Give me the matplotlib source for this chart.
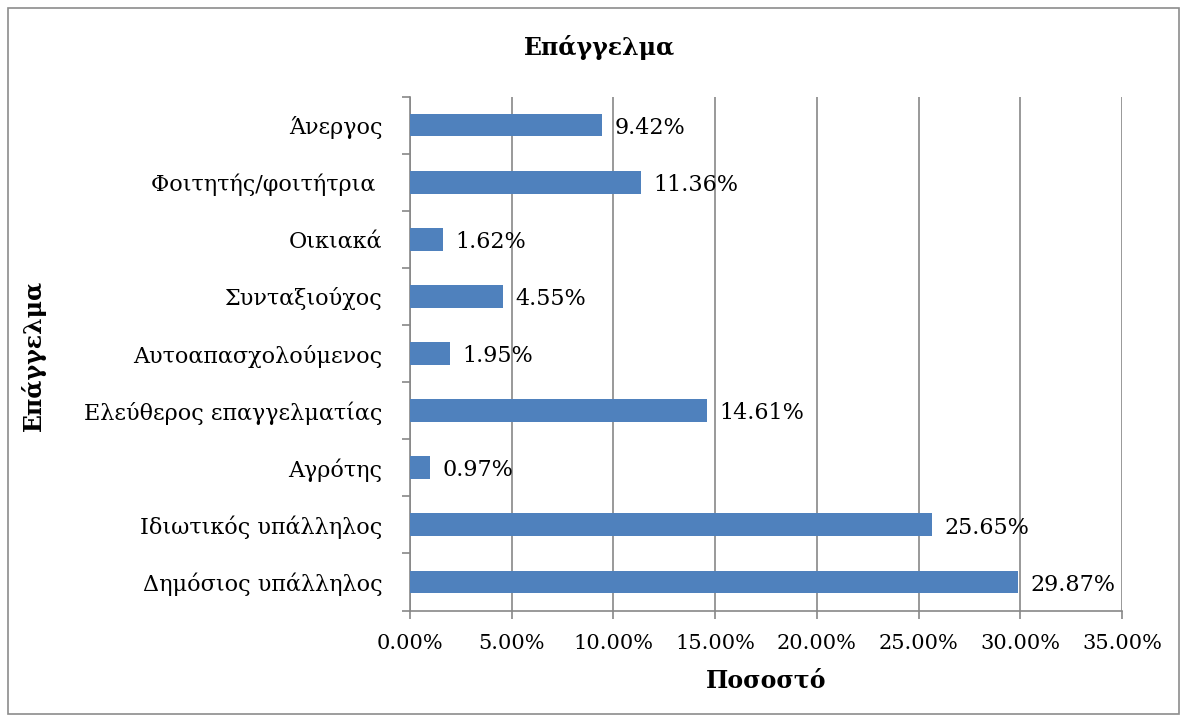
import matplotlib.pyplot as plt
from matplotlib.patches import Rectangle
from matplotlib.ticker import FixedLocator, PercentFormatter

# Data (bottom to top, as drawn)
categories = ['Δημόσιος υπάλληλος', 'Ιδιωτικός υπάλληλος', 'Αγρότης',
              'Ελεύθερος επαγγελματίας', 'Αυτοαπασχολούμενος', 'Συνταξιούχος',
              'Οικιακά', 'Φοιτητής/φοιτήτρια ', 'Άνεργος']
values = [29.87, 25.65, 0.97, 14.61, 1.95, 4.55, 1.62, 11.36, 9.42]
xticks = [0, 5, 10, 15, 20, 25, 30, 35]

plt.rcParams['font.family'] = ['DejaVu Serif']
grey = '#878787'

fig = plt.figure(figsize=(11.87, 7.22), dpi=100)
W, H = 1187, 722
ax = fig.add_axes([410 / W, 1 - 610.5 / H, (1122 - 410) / W, (610.5 - 96.5) / H])

ypos = list(range(len(categories)))
ax.barh(ypos, values, height=0.4, color='#4F81BD', zorder=3)

for y, v in zip(ypos, values):
    ax.annotate(f'{v:.2f}%', (v, y), xytext=(9, -2), textcoords='offset points',
                va='center', ha='left', fontsize=16, zorder=4)

ax.set_xlim(0, 35)
ax.set_ylim(-0.5, len(categories) - 0.5)
ax.xaxis.set_major_locator(FixedLocator(xticks))
ax.xaxis.set_major_formatter(PercentFormatter(decimals=2))
ax.grid(axis='x', color=grey, linewidth=1.2, zorder=0)

ax.set_yticks(ypos)
ax.set_yticklabels(categories)
ax.yaxis.set_minor_locator(FixedLocator([i - 0.5 for i in range(len(categories) + 1)]))
ax.tick_params(axis='y', which='major', length=0, pad=20, labelsize=16)
ax.tick_params(axis='y', which='minor', length=6, width=1.2, color=grey)
ax.tick_params(axis='x', length=6, width=1.2, color=grey, pad=11, labelsize=15)

for side in ['top', 'right']:
    ax.spines[side].set_visible(False)
for side in ['left', 'bottom']:
    ax.spines[side].set_color(grey)
    ax.spines[side].set_linewidth(1.2)

fig.text(600 / W, 1 - 48 / H, 'Επάγγελμα', ha='center', va='center',
         fontsize=17, fontweight='bold')
fig.text(33 / W, 1 - 355 / H, 'Επάγγελμα', ha='center', va='center',
         rotation=90, fontsize=17, fontweight='bold')
fig.text(766 / W, 1 - 680 / H, 'Ποσοστό', ha='center', va='center',
         fontsize=17, fontweight='bold')

# outer chart border
fig.patches.append(Rectangle((8 / W, 8 / H), (1179 - 8) / W, (714 - 8) / H,
                             transform=fig.transFigure, fill=False,
                             edgecolor='#8c8c8c', linewidth=1.2))

fig.savefig('out.png', dpi=100)
